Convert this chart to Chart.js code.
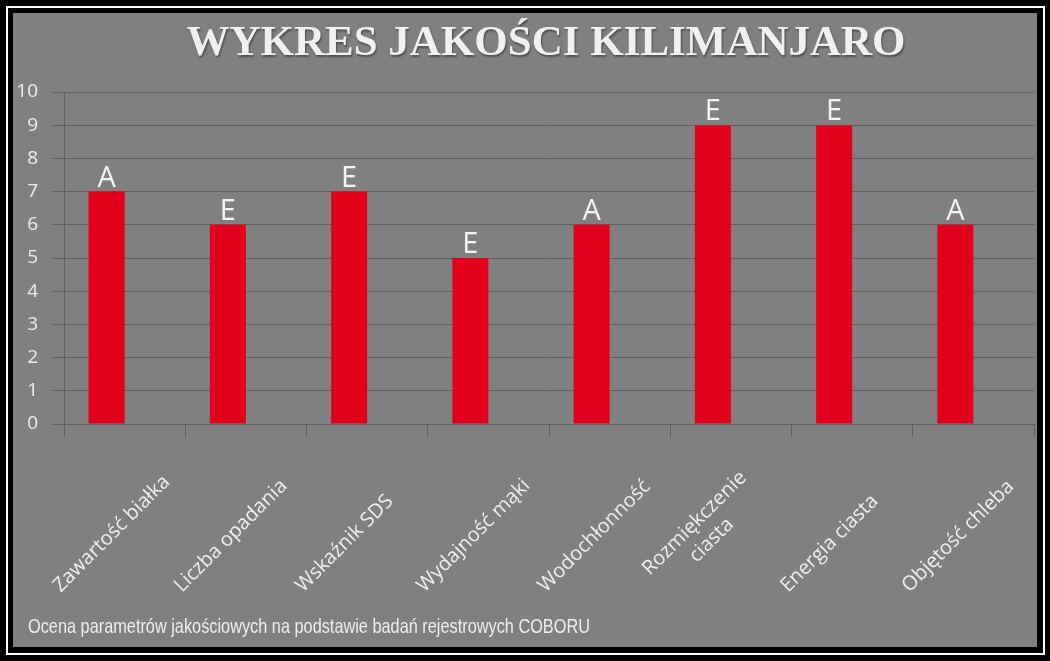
<!DOCTYPE html>
<html>
<head>
<meta charset="utf-8">
<script src="https://cdn.jsdelivr.net/npm/chart.js@4.4.1/dist/chart.umd.min.js"></script>
<style>
  html, body { margin: 0; padding: 0; background: #000; width: 1050px; height: 661px; overflow: hidden; }
  #frame { position: absolute; left: 6px; top: 6px; width: 1035px; height: 645px; border: 2px solid #fff; background: #000; }
  #panel { position: absolute; left: 13px; top: 13px; width: 1024px; height: 634px; background: #808080; overflow: hidden; }
  #chart { position: absolute; left: 0; top: 0; }
  #title { position: absolute; left: 533px; top: 6px; transform: translateX(-50%); white-space: nowrap;
           font: bold 43px/43px "Liberation Serif", "Times New Roman", serif; color: #f0f0f0;
           text-shadow: 1px 2px 2px rgba(0,0,0,0.4); }
  #note { position: absolute; left: 15px; top: 602px; white-space: nowrap; transform-origin: 0 0;
          font: 21px/21px "Liberation Sans Narrow", "Arial Narrow", "Liberation Sans", sans-serif; color: #eeeeee; }
</style>
</head>
<body>
<div id="frame"></div>
<div id="panel">
  <canvas id="chart" width="1024" height="634"></canvas>
  <div id="title">WYKRES JAKOŚCI KILIMANJARO</div>
  <div id="note">Ocena parametrów jakościowych na podstawie badań rejestrowych COBORU</div>
</div>
<script>
// dane wykresu
var categories = [
    'Zawartość białka',
    'Liczba opadania',
    'Wskaźnik SDS',
    'Wydajność mąki',
    'Wodochłonność',
    ['Rozmiękczenie', 'ciasta'],
    'Energia ciasta',
    'Objętość chleba'
];
var scores = [7, 6, 7, 5, 6, 9, 9, 6];
var grades = ['A', 'E', 'E', 'E', 'A', 'E', 'E', 'A'];
// druga seria w oryginale jest pusta
var emptySeries = [null, null, null, null, null, null, null, null];
var yMin = 0;
var yMax = 10;
var yStep = 1;

var gridColor = '#5f5f5f';
var textColor = '#eeeeee';

// litery nad slupkami
var gradePlugin = {
    id: 'grades',
    afterDatasetsDraw: function(chart){
        var ctx = chart.ctx;
        var meta = chart.getDatasetMeta(0);
        ctx.save();
        ctx.font = '29px "Open Sans"';
        ctx.fillStyle = '#f4f4f4';
        ctx.textAlign = 'center';
        ctx.textBaseline = 'alphabetic';
        meta.data.forEach(function(bar, i){
            ctx.fillText(grades[i], bar.x, bar.y - 5);
        });
        ctx.restore();
    }
};

// ukosne podpisy kategorii (wyrownane do dolu jak w Excelu)
var slantPlugin = {
    id: 'slant',
    afterDraw: function(chart){
        var ctx = chart.ctx;
        var xs = chart.scales.x;
        var lh = 24;
        ctx.save();
        ctx.font = '20px "Open Sans"';
        ctx.fillStyle = textColor;
        ctx.textBaseline = 'alphabetic';
        ctx.textAlign = 'center';
        for(var i=0;i<categories.length;i++){
            var lines = Array.isArray(categories[i]) ? categories[i] : [categories[i]];
            var w = 0;
            lines.forEach(function(l){ w = Math.max(w, ctx.measureText(l).width); });
            var cx = xs.getPixelForValue(i);
            ctx.save();
            ctx.translate(cx - 64, xs.top + 169);
            ctx.rotate(-Math.PI / 4);
            for(var k=0;k<lines.length;k++){
                ctx.fillText(lines[k], w / 2, -(lines.length - 1 - k) * lh);
            }
            ctx.restore();
        }
        ctx.restore();
    }
};

var ctx = document.getElementById('chart').getContext('2d');
var qualityChart = new Chart(ctx, {
    type: 'bar',
    data: {
        labels: categories,
        datasets: [{
            label: 'Ocena',
            data: scores,
            backgroundColor: '#e2001a',
            borderWidth: 0,
            categoryPercentage: 0.594,
            barPercentage: 1.0
        }, {
            label: 'puste',
            data: emptySeries,
            backgroundColor: '#e2001a',
            categoryPercentage: 0.594,
            barPercentage: 1.0
        }]
    },
    options: {
        responsive: false,
        animation: false,
        layout: {
            padding: { top: 79, right: 3, left: 0, bottom: 0 }
        },
        plugins: {
            legend: { display: false },
            title: { display: false },
            tooltip: { enabled: false }
        },
        scales: {
            x: {
                grid: {
                    offset: true,
                    drawOnChartArea: false,
                    drawTicks: true,
                    tickLength: 13,
                    color: gridColor
                },
                border: { display: true, color: gridColor },
                ticks: { display: false },
                afterFit: function(scale){ scale.height = 223; }
            },
            y: {
                min: yMin,
                max: yMax,
                ticks: {
                    stepSize: yStep,
                    color: textColor,
                    padding: 15,
                    font: { family: '"Open Sans"', size: 19 }
                },
                grid: {
                    color: gridColor,
                    tickLength: 11
                },
                border: { display: true, color: gridColor },
                afterFit: function(scale){ scale.width = 51; }
            }
        }
    },
    plugins: [gradePlugin, slantPlugin]
});

// dopasowanie szerokosci podpisu pod wykresem
var note = document.getElementById('note');
var nw = note.getBoundingClientRect().width;
note.style.transform = 'scaleX(' + (562 / nw) + ')';
</script>
</body>
</html>
